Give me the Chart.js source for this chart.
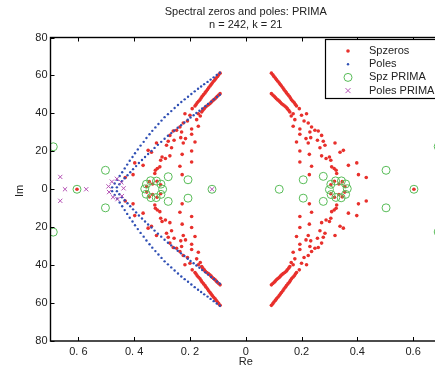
<!DOCTYPE html>
<html>
<head>
<title>Spectral zeros and poles: PRIMA</title>
<script src="https://cdn.jsdelivr.net/npm/chart.js"></script>
<style>
  html, body { margin: 0; padding: 0; overflow: hidden; background: #fff; }
  #wrap { width: 445px; height: 371px; }
</style>
</head>
<body>
<div id="wrap"><canvas id="myChart"></canvas></div>
<script>
// axis ticks
const xTicks = [-0.6, -0.4, -0.2, 0, 0.2, 0.4, 0.6];
const xTickLabels = ['0. 6', '0. 4', '0. 2', '0', '0.2', '0.4', '0.6'];
const yTicks = [-80, -60, -40, -20, 0, 20, 40, 60, 80];
const yTickLabels = ['80', '60', '40', '20', '0', '20', '40', '60', '80'];

// spectral zeros [re, im], by quadrant
const zerosUpperRight = [
  [0.092,61.2],[0.097,60.3],[0.101,59.5],[0.106,58.6],[0.110,57.8],[0.115,56.9],[0.120,56.0],[0.124,55.2],[0.128,54.4],[0.133,53.5],[0.137,52.6],[0.142,51.7],[0.146,50.8],[0.151,49.9],[0.156,49.0],[0.160,48.1],[0.164,47.2],[0.169,46.4],[0.174,45.6],[0.178,44.7],[0.182,43.9],
  [0.092,50.4],[0.097,49.7],[0.102,49.0],[0.106,48.4],[0.110,47.7],[0.115,47.1],[0.120,46.5],[0.124,45.8],[0.129,45.1],[0.134,44.5],[0.140,43.9],[0.145,43.2],[0.149,42.5],[0.154,41.6],[0.158,40.7],
  [0.163,38.6],[0.170,39.8],[0.192,42.5],[0.176,36.7],[0.200,39.0],[0.209,36.0],[0.218,39.8],[0.224,34.9],[0.170,33.2],[0.194,31.8],[0.236,32.8],[0.248,31.1],[0.194,29.0],[0.230,30.2],[0.260,30.7],[0.216,26.7],[0.233,27.2],[0.272,28.4],[0.257,25.8],[0.224,24.4],[0.278,25.3],[0.182,24.9],[0.266,21.9],[0.284,23.2],[0.320,24.4],[0.338,19.5],[0.350,20.5],[0.194,20.2],[0.228,18.4],[0.272,17.6],[0.288,16.2],[0.300,17.0],[0.305,15.3],[0.368,12.6],[0.398,13.9],[0.194,14.4],[0.236,12.1],[0.308,11.8],[0.324,10.0],[0.317,10.9],[0.404,7.7],[0.432,6.2],[0.228,7.7],[0.326,8.3],
  [0.305,2.4],[0.318,4.2],[0.334,2.8],[0.346,4.0],[0.355,1.5]
];
const zerosLowerRight = [
  [0.092,-61.2],[0.097,-60.3],[0.101,-59.5],[0.106,-58.6],[0.110,-57.8],[0.115,-56.9],[0.120,-56.0],[0.124,-55.2],[0.128,-54.4],[0.133,-53.5],[0.137,-52.6],[0.142,-51.7],[0.146,-50.8],[0.151,-49.9],[0.156,-49.0],[0.160,-48.1],[0.164,-47.2],[0.169,-46.4],[0.174,-45.6],[0.178,-44.7],[0.182,-43.9],
  [0.092,-50.4],[0.097,-49.7],[0.102,-49.0],[0.106,-48.4],[0.110,-47.7],[0.115,-47.1],[0.120,-46.5],[0.124,-45.8],[0.129,-45.1],[0.134,-44.5],[0.140,-43.9],[0.145,-43.2],[0.149,-42.5],[0.154,-41.6],[0.158,-40.7],
  [0.163,-38.6],[0.170,-39.8],[0.192,-42.5],[0.176,-36.7],[0.200,-39.0],[0.209,-36.0],[0.218,-39.8],[0.224,-34.9],[0.170,-33.2],[0.194,-31.8],[0.236,-32.8],[0.248,-31.1],[0.194,-29.0],[0.230,-30.2],[0.260,-30.7],[0.216,-26.7],[0.233,-27.2],[0.272,-28.4],[0.257,-25.8],[0.224,-24.4],[0.278,-25.3],[0.182,-24.9],[0.266,-21.9],[0.284,-23.2],[0.320,-24.4],[0.338,-19.5],[0.350,-20.5],[0.194,-20.2],[0.228,-18.4],[0.272,-17.6],[0.288,-16.2],[0.300,-17.0],[0.305,-15.3],[0.368,-12.6],[0.398,-13.9],[0.194,-14.4],[0.236,-12.1],[0.308,-11.8],[0.324,-10.0],[0.317,-10.9],[0.404,-7.7],[0.432,-6.2],[0.228,-7.7],[0.326,-8.3],
  [0.305,-2.4],[0.318,-4.2],[0.334,-2.8],[0.346,-4.0],[0.355,-1.5]
];
const zerosUpperLeft = [
  [-0.092,61.2],[-0.097,60.3],[-0.101,59.5],[-0.106,58.6],[-0.110,57.8],[-0.115,56.9],[-0.120,56.0],[-0.124,55.2],[-0.128,54.4],[-0.133,53.5],[-0.137,52.6],[-0.142,51.7],[-0.146,50.8],[-0.151,49.9],[-0.156,49.0],[-0.160,48.1],[-0.164,47.2],[-0.169,46.4],[-0.174,45.6],[-0.178,44.7],[-0.182,43.9],
  [-0.092,50.4],[-0.097,49.7],[-0.102,49.0],[-0.106,48.4],[-0.110,47.7],[-0.115,47.1],[-0.120,46.5],[-0.124,45.8],[-0.129,45.1],[-0.134,44.5],[-0.140,43.9],[-0.145,43.2],[-0.149,42.5],[-0.154,41.6],[-0.158,40.7],
  [-0.163,38.6],[-0.170,39.8],[-0.192,42.5],[-0.176,36.7],[-0.200,39.0],[-0.209,36.0],[-0.218,39.8],[-0.224,34.9],[-0.170,33.2],[-0.194,31.8],[-0.236,32.8],[-0.248,31.1],[-0.194,29.0],[-0.230,30.2],[-0.260,30.7],[-0.216,26.7],[-0.233,27.2],[-0.272,28.4],[-0.257,25.8],[-0.224,24.4],[-0.278,25.3],[-0.182,24.9],[-0.266,21.9],[-0.284,23.2],[-0.320,24.4],[-0.338,19.5],[-0.350,20.5],[-0.194,20.2],[-0.228,18.4],[-0.272,17.6],[-0.288,16.2],[-0.300,17.0],[-0.305,15.3],[-0.368,12.6],[-0.398,13.9],[-0.194,14.4],[-0.236,12.1],[-0.308,11.8],[-0.324,10.0],[-0.317,10.9],[-0.404,7.7],[-0.432,6.2],[-0.228,7.7],[-0.326,8.3],
  [-0.305,2.4],[-0.318,4.2],[-0.334,2.8],[-0.346,4.0],[-0.355,1.5]
];
const zerosLowerLeft = [
  [-0.092,-61.2],[-0.097,-60.3],[-0.101,-59.5],[-0.106,-58.6],[-0.110,-57.8],[-0.115,-56.9],[-0.120,-56.0],[-0.124,-55.2],[-0.128,-54.4],[-0.133,-53.5],[-0.137,-52.6],[-0.142,-51.7],[-0.146,-50.8],[-0.151,-49.9],[-0.156,-49.0],[-0.160,-48.1],[-0.164,-47.2],[-0.169,-46.4],[-0.174,-45.6],[-0.178,-44.7],[-0.182,-43.9],
  [-0.092,-50.4],[-0.097,-49.7],[-0.102,-49.0],[-0.106,-48.4],[-0.110,-47.7],[-0.115,-47.1],[-0.120,-46.5],[-0.124,-45.8],[-0.129,-45.1],[-0.134,-44.5],[-0.140,-43.9],[-0.145,-43.2],[-0.149,-42.5],[-0.154,-41.6],[-0.158,-40.7],
  [-0.163,-38.6],[-0.170,-39.8],[-0.192,-42.5],[-0.176,-36.7],[-0.200,-39.0],[-0.209,-36.0],[-0.218,-39.8],[-0.224,-34.9],[-0.170,-33.2],[-0.194,-31.8],[-0.236,-32.8],[-0.248,-31.1],[-0.194,-29.0],[-0.230,-30.2],[-0.260,-30.7],[-0.216,-26.7],[-0.233,-27.2],[-0.272,-28.4],[-0.257,-25.8],[-0.224,-24.4],[-0.278,-25.3],[-0.182,-24.9],[-0.266,-21.9],[-0.284,-23.2],[-0.320,-24.4],[-0.338,-19.5],[-0.350,-20.5],[-0.194,-20.2],[-0.228,-18.4],[-0.272,-17.6],[-0.288,-16.2],[-0.300,-17.0],[-0.305,-15.3],[-0.368,-12.6],[-0.398,-13.9],[-0.194,-14.4],[-0.236,-12.1],[-0.308,-11.8],[-0.324,-10.0],[-0.317,-10.9],[-0.404,-7.7],[-0.432,-6.2],[-0.228,-7.7],[-0.326,-8.3],
  [-0.305,-2.4],[-0.318,-4.2],[-0.334,-2.8],[-0.346,-4.0],[-0.355,-1.5]
];
const zerosRealAxis = [[0.603,0],[-0.605,0]];

// poles [re, im]: two branches above and below the real axis
const polesOuterUpper = [
  [-0.093,61.4],[-0.104,60.2],[-0.115,59.0],[-0.126,57.8],[-0.137,56.6],[-0.149,55.4],[-0.160,54.2],[-0.171,53.0],[-0.183,51.6],[-0.195,50.2],[-0.207,48.8],[-0.219,47.4],[-0.231,46.0],[-0.243,44.4],[-0.255,42.8],[-0.267,41.2],[-0.279,39.6],[-0.291,38.0],[-0.302,36.2],[-0.313,34.4],[-0.324,32.6],[-0.335,30.8],[-0.345,29.0],[-0.356,27.0],[-0.366,25.0],[-0.377,23.0],[-0.387,21.0],[-0.397,19.0],[-0.406,17.0],[-0.416,15.0],[-0.425,13.0],[-0.434,11.0],[-0.443,9.0],[-0.452,7.0],[-0.461,5.0],[-0.470,3.0],[-0.479,1.0]
];
const polesInnerUpper = [
  [-0.093,49.8],[-0.103,48.6],[-0.114,47.4],[-0.124,46.2],[-0.135,45.0],[-0.145,43.8],[-0.156,42.6],[-0.166,41.4],[-0.177,40.2],[-0.187,39.0],[-0.198,37.8],[-0.208,36.6],[-0.220,35.2],[-0.232,33.8],[-0.244,32.4],[-0.256,31.0],[-0.267,29.6],[-0.279,28.2],[-0.291,26.6],[-0.303,25.0],[-0.315,23.4],[-0.327,21.8],[-0.338,20.2],[-0.350,18.6],[-0.361,17.0],[-0.372,15.4],[-0.383,13.8],[-0.393,12.2],[-0.404,10.6],[-0.414,9.0],[-0.424,7.4],[-0.434,5.8],[-0.444,4.2],[-0.453,2.6],[-0.462,1.0]
];
const polesOuterLower = [
  [-0.093,-61.4],[-0.104,-60.2],[-0.115,-59.0],[-0.126,-57.8],[-0.137,-56.6],[-0.149,-55.4],[-0.160,-54.2],[-0.171,-53.0],[-0.183,-51.6],[-0.195,-50.2],[-0.207,-48.8],[-0.219,-47.4],[-0.231,-46.0],[-0.243,-44.4],[-0.255,-42.8],[-0.267,-41.2],[-0.279,-39.6],[-0.291,-38.0],[-0.302,-36.2],[-0.313,-34.4],[-0.324,-32.6],[-0.335,-30.8],[-0.345,-29.0],[-0.356,-27.0],[-0.366,-25.0],[-0.377,-23.0],[-0.387,-21.0],[-0.397,-19.0],[-0.406,-17.0],[-0.416,-15.0],[-0.425,-13.0],[-0.434,-11.0],[-0.443,-9.0],[-0.452,-7.0],[-0.461,-5.0],[-0.470,-3.0],[-0.479,-1.0]
];
const polesInnerLower = [
  [-0.093,-49.8],[-0.103,-48.6],[-0.114,-47.4],[-0.124,-46.2],[-0.135,-45.0],[-0.145,-43.8],[-0.156,-42.6],[-0.166,-41.4],[-0.177,-40.2],[-0.187,-39.0],[-0.198,-37.8],[-0.208,-36.6],[-0.220,-35.2],[-0.232,-33.8],[-0.244,-32.4],[-0.256,-31.0],[-0.267,-29.6],[-0.279,-28.2],[-0.291,-26.6],[-0.303,-25.0],[-0.315,-23.4],[-0.327,-21.8],[-0.338,-20.2],[-0.350,-18.6],[-0.361,-17.0],[-0.372,-15.4],[-0.383,-13.8],[-0.393,-12.2],[-0.404,-10.6],[-0.414,-9.0],[-0.424,-7.4],[-0.434,-5.8],[-0.444,-4.2],[-0.453,-2.6],[-0.462,-1.0]
];

// PRIMA reduced model
const spzPrima = [
  [0.364,0.3],[0.358,2.8],[0.343,4.4],[0.322,4.4],[0.305,2.6],[0.300,-0.2],[0.306,-2.8],[0.323,-4.3],[0.342,-4.5],[0.358,-2.7],
  [0.206,5.0],[0.206,-4.7],[0.278,6.8],[0.278,-6.4],[0.120,0],[0.503,10.0],[0.503,-9.8],[0.603,0],[0.690,22.5],[0.690,-22.5],
  [-0.362,0.2],[-0.356,2.7],[-0.341,4.5],[-0.320,4.3],[-0.304,2.7],[-0.298,0],[-0.304,-2.7],[-0.321,-4.4],[-0.340,-4.4],[-0.357,-2.6],
  [-0.207,5.0],[-0.207,-4.7],[-0.278,6.6],[-0.278,-6.4],[-0.121,0],[-0.503,10.0],[-0.503,-9.8],[-0.605,0],[-0.690,22.4],[-0.690,-22.6]
];
const polesPrima = [
  [-0.665,6.5],[-0.665,-6.1],[-0.648,0],[-0.572,0],[-0.121,0],
  [-0.492,1.5],[-0.490,-1.5],[-0.480,4.0],[-0.476,-4.2],[-0.462,5.5],[-0.460,-5.2],[-0.446,3.6],[-0.444,-3.6],[-0.438,0.5]
];

const toXY = arr => arr.map(p => ({ x: p[0], y: p[1] }));

const frame = {
  id: 'frame',
  afterDraw(chart) {
    const { ctx, chartArea: a, scales: { x, y } } = chart;
    ctx.save();
    ctx.strokeStyle = '#000';
    ctx.lineWidth = 1;
    ctx.beginPath();
    xTicks.forEach(v => {
      const px = Math.round(x.getPixelForValue(v)) + 0.5;
      ctx.moveTo(px, a.bottom); ctx.lineTo(px, a.bottom - 4);
      ctx.moveTo(px, a.top); ctx.lineTo(px, a.top + 4);
    });
    yTicks.forEach(v => {
      const py = Math.round(y.getPixelForValue(v)) + 0.5;
      ctx.moveTo(a.left, py); ctx.lineTo(a.left + 4, py);
      ctx.moveTo(a.right, py); ctx.lineTo(a.right - 4, py);
    });
    ctx.stroke();
    ctx.lineWidth = 1.4;
    ctx.strokeRect(a.left, a.top, a.right - a.left, a.bottom - a.top);

    // titles
    const cx = (a.left + a.right) / 2;
    ctx.fillStyle = '#222';
    ctx.font = "11px 'Liberation Sans', Arial, sans-serif";
    ctx.textAlign = 'center';
    ctx.textBaseline = 'middle';
    ctx.fillText('Spectral zeros and poles: PRIMA', cx, 12);
    ctx.fillText('n = 242, k = 21', cx, 25);
    ctx.fillText('Re', cx, 362);
    ctx.save();
    ctx.translate(20, 191);
    ctx.rotate(-Math.PI / 2);
    ctx.fillText('Im', 0, 0);
    ctx.restore();

    // legend
    const lx = 325.5, ly = 39.5, lw = 112, lh = 59;
    ctx.fillStyle = '#fff';
    ctx.fillRect(lx, ly, lw, lh);
    ctx.lineWidth = 1.2;
    ctx.strokeStyle = '#000';
    ctx.strokeRect(lx, ly, lw, lh);
    ctx.textAlign = 'left';
    chart.data.datasets.forEach((ds, i) => {
      const my = 51 + i * 13.2;
      const mx = 348;
      ctx.save();
      if (ds.pointStyle === 'crossRot') {
        ctx.strokeStyle = ds.borderColor; ctx.lineWidth = 1;
        ctx.beginPath();
        ctx.moveTo(mx - 2.5, my - 2.5); ctx.lineTo(mx + 2.5, my + 2.5);
        ctx.moveTo(mx + 2.5, my - 2.5); ctx.lineTo(mx - 2.5, my + 2.5);
        ctx.stroke();
      } else if (ds.backgroundColor === 'transparent') {
        ctx.strokeStyle = ds.borderColor; ctx.lineWidth = 1;
        ctx.beginPath(); ctx.arc(mx, my, ds.pointRadius, 0, Math.PI * 2); ctx.stroke();
      } else {
        ctx.fillStyle = ds.backgroundColor;
        ctx.beginPath(); ctx.arc(mx, my, ds.pointRadius, 0, Math.PI * 2); ctx.fill();
      }
      ctx.restore();
      ctx.fillStyle = '#222';
      ctx.fillText(ds.label, 369, my);
    });
    ctx.restore();
  }
};

Chart.defaults.font.family = "'Liberation Sans', Arial, sans-serif";
Chart.defaults.font.size = 11;
Chart.defaults.color = '#222';

new Chart(document.getElementById('myChart').getContext('2d'), {
  type: 'scatter',
  data: {
    datasets: [
      {
        label: 'Spzeros', order: 4,
        data: toXY([...zerosUpperRight, ...zerosLowerRight, ...zerosUpperLeft, ...zerosLowerLeft, ...zerosRealAxis]),
        pointStyle: 'circle', pointRadius: 1.8, pointBorderWidth: 0,
        backgroundColor: '#e8302c', borderColor: '#e8302c'
      },
      {
        label: 'Poles', order: 3,
        data: toXY([...polesOuterUpper, ...polesInnerUpper, ...polesOuterLower, ...polesInnerLower]),
        pointStyle: 'circle', pointRadius: 1.2, pointBorderWidth: 0,
        backgroundColor: '#2f4fb4', borderColor: '#2f4fb4'
      },
      {
        label: 'Spz PRIMA', order: 2,
        data: toXY(spzPrima),
        pointStyle: 'circle', pointRadius: 4, pointBorderWidth: 1,
        backgroundColor: 'transparent', borderColor: '#58bc58'
      },
      {
        label: 'Poles PRIMA', order: 1,
        data: toXY(polesPrima),
        pointStyle: 'crossRot', pointRadius: 3, pointBorderWidth: 1,
        backgroundColor: '#b452b4', borderColor: '#b452b4'
      }
    ]
  },
  options: {
    responsive: true,
    maintainAspectRatio: false,
    animation: false,
    events: [],
    layout: { padding: { top: 37.5, right: 4, bottom: 0, left: 0 }, autoPadding: false },
    plugins: { legend: { display: false }, title: { display: false }, tooltip: { enabled: false } },
    scales: {
      x: {
        type: 'linear', min: -0.7, max: 0.7,
        grid: { display: false, drawTicks: false },
        border: { display: false },
        afterBuildTicks: s => { s.ticks = xTicks.map(v => ({ value: v })); },
        afterFit: s => { s.height = 30; },
        ticks: { padding: 4, maxRotation: 0, autoSkip: false, callback: v => xTickLabels[xTicks.indexOf(v)] }
      },
      y: {
        type: 'linear', min: -80, max: 80,
        grid: { display: false, drawTicks: false },
        border: { display: false },
        afterBuildTicks: s => { s.ticks = yTicks.map(v => ({ value: v })); },
        afterFit: s => { s.width = 50.5; },
        ticks: { padding: 3, autoSkip: false, callback: v => yTickLabels[yTicks.indexOf(v)] }
      }
    }
  },
  plugins: [frame]
});
</script>
</body>
</html>
